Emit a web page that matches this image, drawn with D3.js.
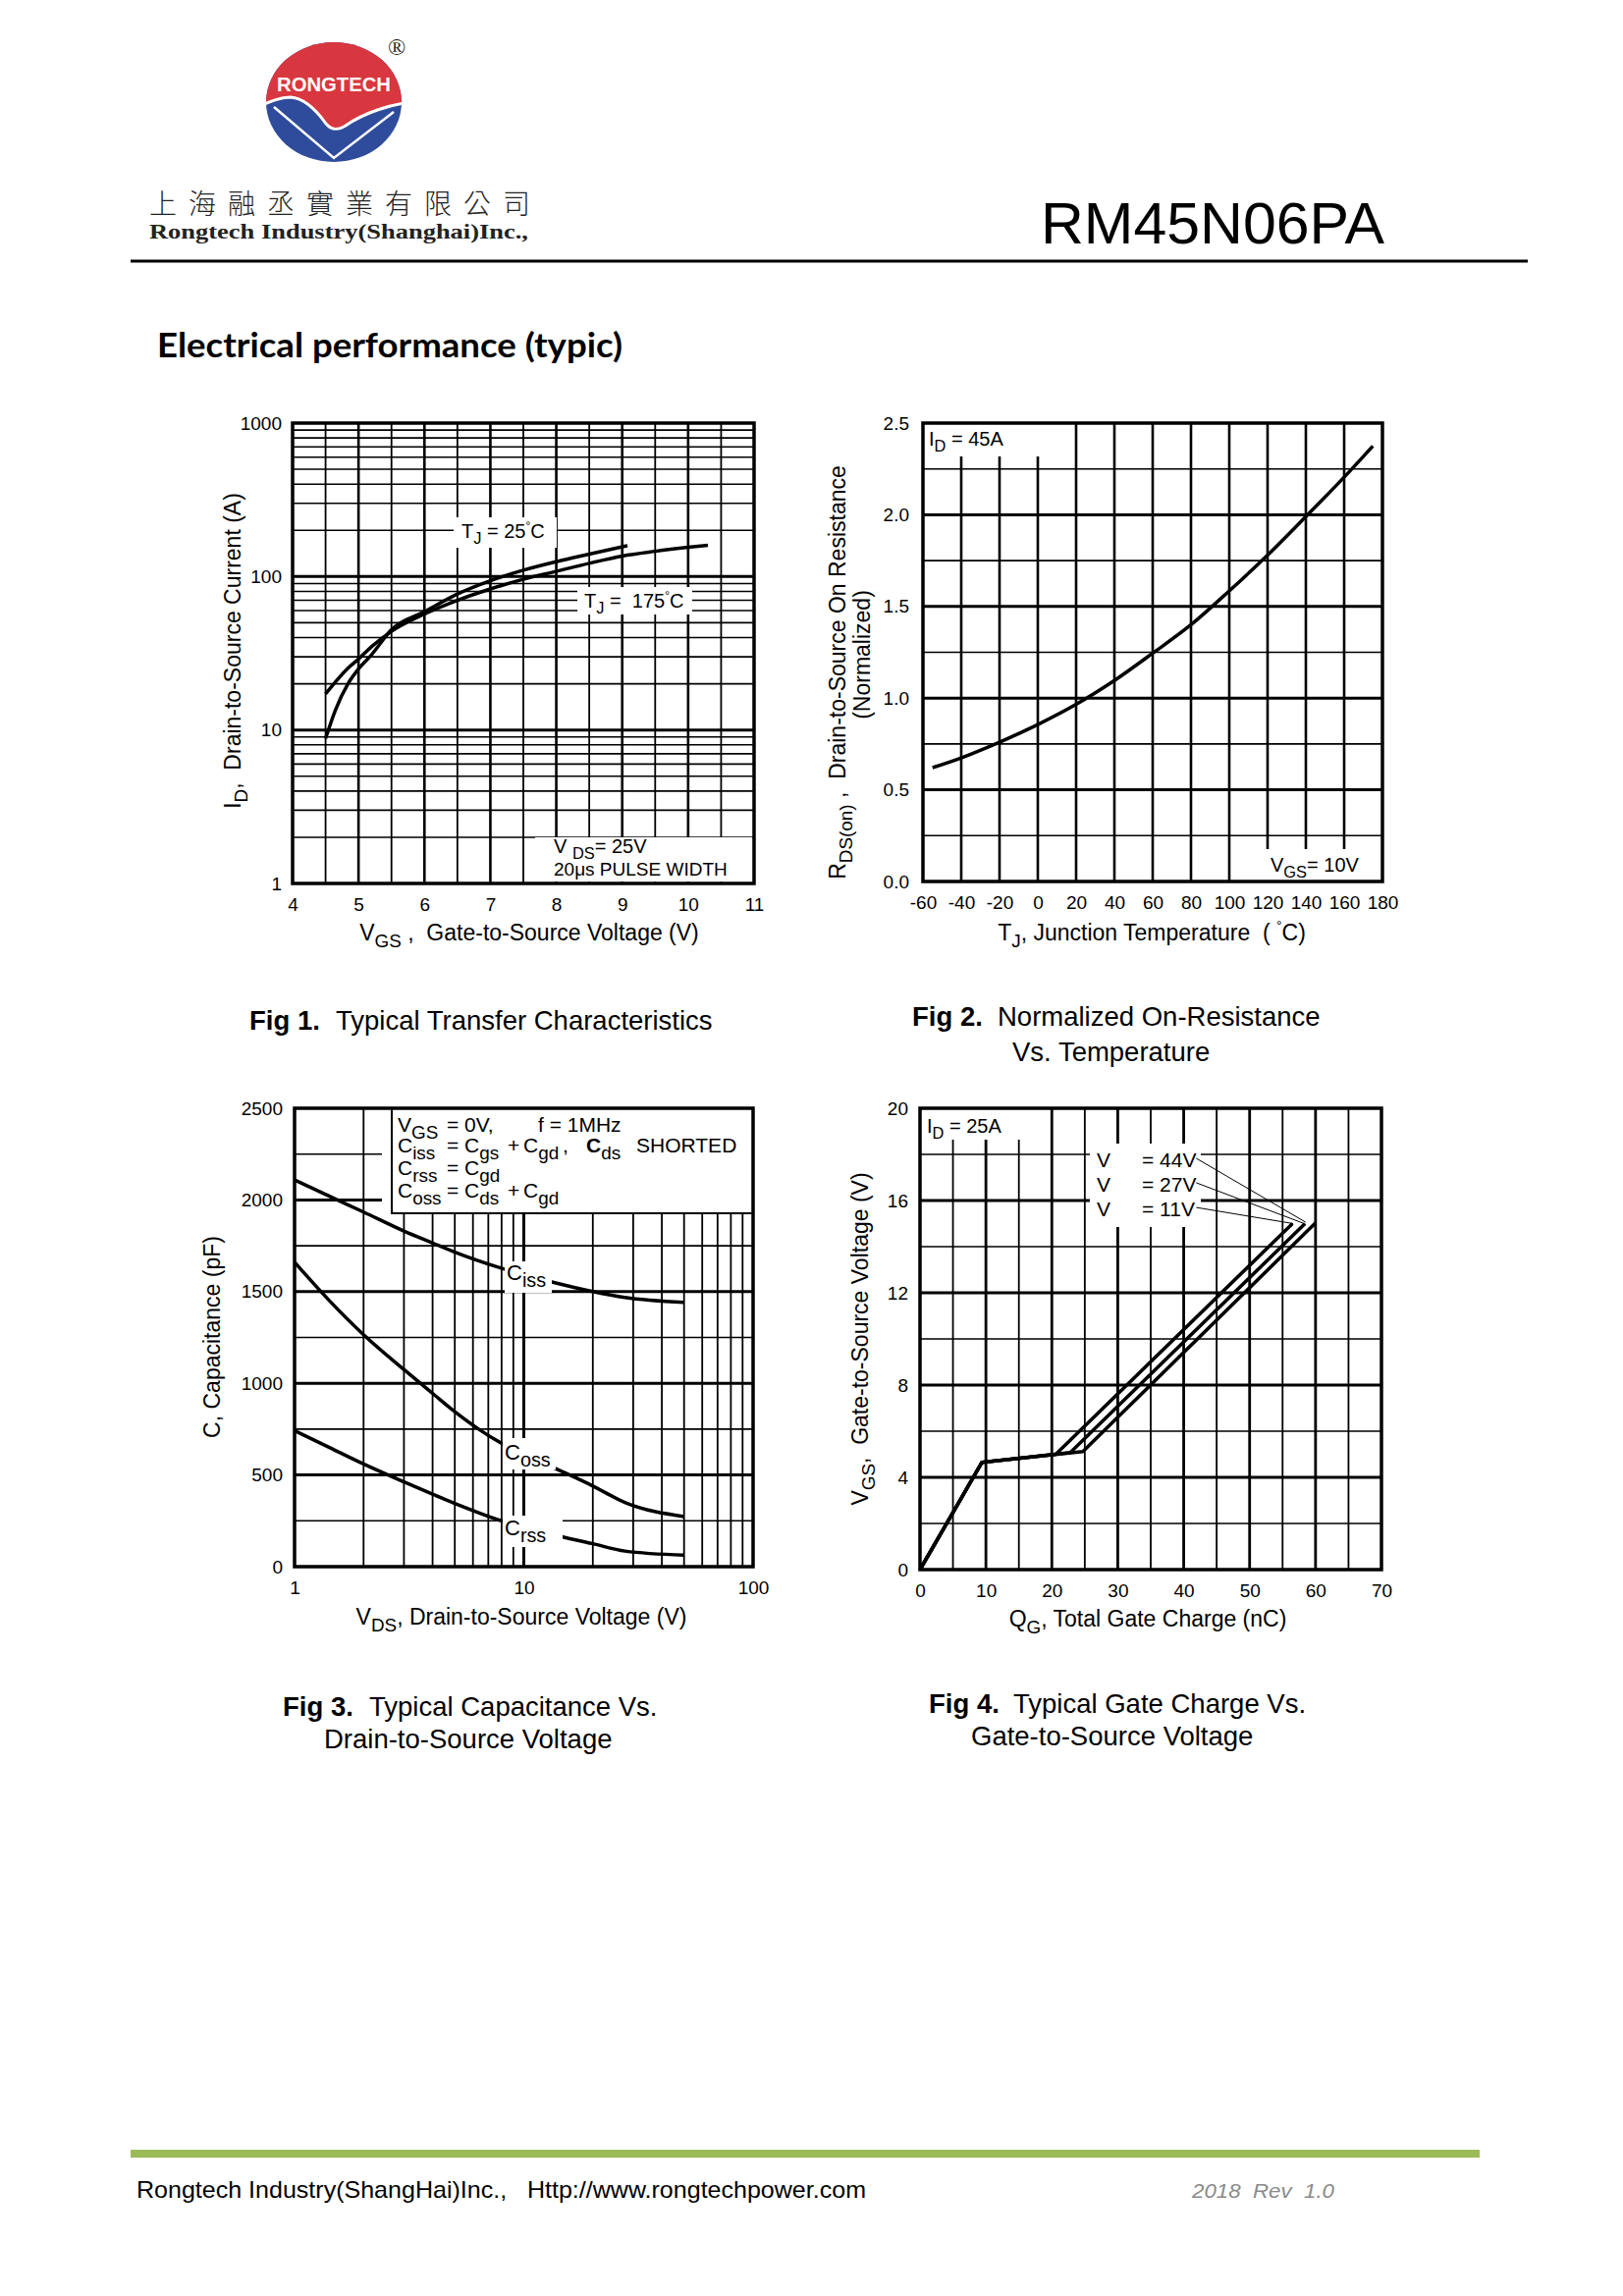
<!DOCTYPE html>
<html><head><meta charset="utf-8">
<script src="https://cdn.jsdelivr.net/npm/d3@7"></script>
<style>
body{margin:0;background:#fff}
svg{display:block}
text{white-space:pre}
</style>
</head><body>
<svg id="page" width="1653" height="2339" xmlns="http://www.w3.org/2000/svg" font-family="'Liberation Sans', Arial, sans-serif"></svg>
<script>
// ---------- DATA ----------
// Fig 1: Typical transfer characteristics (ID vs VGS)
const fig1Vgs25  = [4.5, 4.65, 4.84, 5.0, 5.2, 5.5, 6.0, 6.5, 7.0, 7.5, 8.0, 8.5, 9.08];
const fig1Id25   = [8.8, 13.5, 20, 25, 31, 45, 59, 77, 94, 110, 125, 140, 159];
const fig1Vgs175 = [4.5, 4.84, 5.0, 5.2, 5.5, 6.0, 6.5, 7.0, 7.5, 8.0, 8.5, 9.0, 9.5, 10.0, 10.3];
const fig1Id175  = [17.2, 25.3, 29, 35, 44, 57, 70, 83, 96, 108, 122, 136, 146, 155, 160];
const fig1XTicks = [4, 5, 6, 7, 8, 9, 10, 11];
const fig1YTicks = [1, 10, 100, 1000];

// Fig 2: Normalized on-resistance vs temperature
const fig2Temp = [-55, -40, -20, 0, 20, 40, 60, 80, 100, 120, 140, 160, 175];
const fig2Rds  = [0.621, 0.674, 0.760, 0.856, 0.966, 1.096, 1.245, 1.40, 1.585, 1.78, 1.99, 2.205, 2.375];
const fig2XTicks = [-60, -40, -20, 0, 20, 40, 60, 80, 100, 120, 140, 160, 180];
const fig2YTicks = [0, 0.5, 1.0, 1.5, 2.0, 2.5];

// Fig 3: Capacitance vs VDS
const fig3VdsIss = [1, 1.42, 2, 3, 4, 5, 8.1, 13, 20, 27.6, 50];
const fig3Ciss   = [2109, 2020, 1934, 1830, 1765, 1715, 1625, 1555, 1500, 1468, 1441];
const fig3VdsOss = [1, 1.42, 2, 3, 4, 5, 6.44, 8.2, 13.5, 20, 27.6, 50];
const fig3Coss   = [1660, 1450, 1265, 1075, 945, 845, 745, 665, 540, 440, 350, 273];
const fig3VdsRss = [1, 1.42, 2, 3, 4, 5, 8.2, 14.5, 20, 27.6, 50];
const fig3Crss   = [742, 650, 560, 462, 395, 345, 245, 165, 125, 85, 63];
const fig3XTicks = [1, 10, 100];
const fig3YTicks = [0, 500, 1000, 1500, 2000, 2500];

// Fig 4: Gate charge
const fig4Q11 = [0, 9.4, 20.6, 56.5];
const fig4V11 = [0, 4.65, 5.0, 15.0];
const fig4Q27 = [0, 9.4, 22.8, 58.4];
const fig4V27 = [0, 4.65, 5.07, 15.0];
const fig4Q44 = [0, 9.4, 24.7, 60.0];
const fig4V44 = [0, 4.65, 5.12, 15.03];
const fig4Labels = ["44V", "27V", "11V"];
const fig4LeaderFromQ = [41.9, 41.9, 41.9];
const fig4LeaderFromV = [17.83, 16.77, 15.70];
const fig4LeaderToQ   = [58.5, 58.1, 56.6];
const fig4LeaderToV   = [15.06, 15.02, 15.0];
const fig4XTicks = [0, 10, 20, 30, 40, 50, 60, 70];
const fig4YTicks = [0, 4, 8, 12, 16, 20];

// ---------- HELPERS ----------
const svg = d3.select('#page');
const FONT = "'Liberation Sans', Arial, sans-serif";
const TITLE = 23;

function rich(g, x, y, parts, size, attrs, subScale) {
  const ss = subScale || 0.82;
  const t = g.append('text').attr('x', x).attr('y', y).attr('font-size', size);
  if (attrs) for (const k in attrs) t.attr(k, attrs[k]);
  let shift = 0;
  parts.forEach(p => {
    const s = typeof p === 'string' ? p : p[0];
    const kind = typeof p === 'string' ? 'n' : (p[1] || 'n');
    const ts = t.append('tspan').text(s);
    let target = 0;
    if (kind === 'sub') { target = size * 0.32; ts.attr('font-size', size * ss); }
    else if (kind === 'sup') { target = -size * 0.42; ts.attr('font-size', size * 0.6); }
    if (kind === 'b') ts.attr('font-weight', 'bold');
    if (target !== shift) { ts.attr('dy', target - shift); shift = target; }
    if (typeof p !== 'string' && p[2] != null) ts.attr('x', p[2]);
  });
  return t;
}

function vlines(g, x, y, vals, w) {
  g.append('g').selectAll('line').data(vals).join('line')
    .attr('x1', d => x(d)).attr('x2', d => x(d))
    .attr('y1', y.range()[0]).attr('y2', y.range()[1])
    .attr('stroke', '#000').attr('stroke-width', w);
}
function hlines(g, x, y, vals, w) {
  g.append('g').selectAll('line').data(vals).join('line')
    .attr('y1', d => y(d)).attr('y2', d => y(d))
    .attr('x1', x.range()[0]).attr('x2', x.range()[1])
    .attr('stroke', '#000').attr('stroke-width', w);
}
function frame(g, x, y) {
  g.append('rect').attr('x', x.range()[0]).attr('y', y.range()[1])
    .attr('width', x.range()[1] - x.range()[0]).attr('height', y.range()[0] - y.range()[1])
    .attr('fill', 'none').attr('stroke', '#000').attr('stroke-width', 3.5);
}
function whiteBox(g, x0, y0, x1, y1) {
  g.append('rect').attr('x', x0).attr('y', y0).attr('width', x1 - x0).attr('height', y1 - y0).attr('fill', '#fff');
}
function axes(g, x, y, xt, yt, xfmt, yfmt, xpad, ypad) {
  const ax = g.append('g').attr('transform', `translate(0,${y.range()[0]})`)
    .call(d3.axisBottom(x).tickValues(xt).tickFormat(xfmt).tickSize(0).tickPadding(xpad));
  const ay = g.append('g').attr('transform', `translate(${x.range()[0]},0)`)
    .call(d3.axisLeft(y).tickValues(yt).tickFormat(yfmt).tickSize(0).tickPadding(ypad));
  [ax, ay].forEach(a => {
    a.select('.domain').remove();
    a.attr('font-family', FONT).attr('font-size', 19);
    a.selectAll('text').attr('fill', '#000');
  });
}
function curve(g, xs, ys, x, y, type, w) {
  const pts = xs.map((v, i) => [v, ys[i]]);
  g.append('path').attr('d', d3.line().x(d => x(d[0])).y(d => y(d[1])).curve(type)(pts))
    .attr('fill', 'none').attr('stroke', '#000').attr('stroke-width', w).attr('stroke-linejoin', 'round');
}
function yTitle(g, cx, cy, parts, size) {
  const gg = g.append('g').attr('transform', `translate(${cx},${cy}) rotate(-90)`);
  rich(gg, 0, 0, parts, size, {'text-anchor': 'middle'});
}
const plain = d => String(d);

// ---------- HEADER ----------
const hdr = svg.append('g');
const defs = svg.append('defs');
defs.append('clipPath').attr('id', 'logoClip').append('ellipse')
  .attr('cx', 340).attr('cy', 104).attr('rx', 69).attr('ry', 61);
const logo = hdr.append('g').attr('clip-path', 'url(#logoClip)');
logo.append('rect').attr('x', 260).attr('y', 35).attr('width', 160).attr('height', 140).attr('fill', '#2f4c9c');
logo.append('path')
  .attr('d', 'M260,35 L420,35 L420,104 C400,106 372,114 352,128 C344,133 338,133 332,126 C322,112 310,100 296,99 C285,99 276,103 260,110 Z')
  .attr('fill', '#d8373f');
logo.append('path')
  .attr('d', 'M260,110 C276,103 285,99 296,99 C310,100 322,112 332,126 C338,133 344,133 352,128 C372,114 400,106 420,104')
  .attr('fill', 'none').attr('stroke', '#fff').attr('stroke-width', 3);
logo.append('path').attr('d', 'M279,109 L340,161 L401,114')
  .attr('fill', 'none').attr('stroke', '#fff').attr('stroke-width', 2.5);
hdr.append('text').attr('x', 340).attr('y', 93).attr('text-anchor', 'middle')
  .attr('font-size', 21).attr('font-weight', 'bold').attr('fill', '#fff')
  .attr('textLength', 116).attr('lengthAdjust', 'spacingAndGlyphs').text('RONGTECH');
hdr.append('text').attr('x', 404).attr('y', 56).attr('text-anchor', 'middle')
  .attr('font-size', 24).attr('font-family', "'Liberation Serif', serif").attr('fill', '#222').text('®');
hdr.append('text').attr('x', 152).attr('y', 218).attr('font-size', 28)
  .attr('font-family', "'Noto Sans CJK TC','Noto Sans CJK SC',sans-serif").attr('font-weight', 300).attr('fill', '#222')
  .attr('textLength', 388).attr('lengthAdjust', 'spacing').text('上海融丞實業有限公司');
hdr.append('text').attr('x', 152).attr('y', 243).attr('font-size', 21).attr('font-weight', 'bold')
  .attr('font-family', "'Liberation Serif','DejaVu Serif',serif").attr('fill', '#222')
  .attr('textLength', 386).attr('lengthAdjust', 'spacingAndGlyphs').text('Rongtech Industry(Shanghai)Inc.,');
hdr.append('line').attr('x1', 133).attr('x2', 1556).attr('y1', 266).attr('y2', 266)
  .attr('stroke', '#000').attr('stroke-width', 3);
hdr.append('text').attr('x', 1060).attr('y', 248).attr('font-size', 60).attr('fill', '#000')
  .attr('textLength', 350).attr('lengthAdjust', 'spacingAndGlyphs').text('RM45N06PA');
hdr.append('text').attr('x', 160).attr('y', 364).attr('font-size', 34).attr('font-weight', 'bold')
  .attr('font-family', "Lato, 'Open Sans', sans-serif").attr('fill', '#000')
  .attr('textLength', 474).attr('lengthAdjust', 'spacingAndGlyphs').text('Electrical performance (typic)');

// ---------- FIG 1 ----------
{
  const g = svg.append('g');
  const x = d3.scaleLinear().domain([4, 11]).range([298, 768]);
  const y = d3.scaleLog().domain([1, 1000]).range([900, 431]);
  const minorY = [], majorY = [10, 100];
  [1, 10, 100].forEach(d => { for (let k = 2; k <= 9; k++) minorY.push(k * d); });
  hlines(g, x, y, minorY, 1.6);
  hlines(g, x, y, majorY, 3);
  vlines(g, x, y, d3.range(4.5, 11, 1), 1.8);
  vlines(g, x, y, d3.range(5, 11, 1), 2.6);
  whiteBox(g, 462, 527, 567, 558);
  whiteBox(g, 588, 598, 705, 626);
  whiteBox(g, 545, 853, 766, 898);
  curve(g, fig1Vgs25, fig1Id25, x, y, d3.curveMonotoneX, 3.5);
  curve(g, fig1Vgs175, fig1Id175, x, y, d3.curveMonotoneX, 3.5);
  frame(g, x, y);
  axes(g, x, y, fig1XTicks, fig1YTicks, plain, plain, 15, 11);
  rich(g, 470, 548, ['T', ['J', 'sub'], ' = 25', ['°', 'sup'], 'C'], 20);
  rich(g, 595, 619, ['T', ['J', 'sub'], ' =  175', ['°', 'sup'], 'C'], 20);
  rich(g, 564, 869, ['V ', ['DS', 'sub'], '= 25V'], 20);
  rich(g, 564, 892, ['20μs PULSE WIDTH'], 19);
  yTitle(g, 245, 663, ['I', ['D', 'sub'], ',  Drain-to-Source Current (A)'], TITLE);
  rich(g, 539, 958, ['V', ['GS', 'sub'], ' ,  Gate-to-Source Voltage (V)'], TITLE, {'text-anchor': 'middle'});
}

// ---------- FIG 2 ----------
{
  const g = svg.append('g');
  const x = d3.scaleLinear().domain([-60, 180]).range([940, 1408]);
  const y = d3.scaleLinear().domain([0, 2.5]).range([898, 431]);
  hlines(g, x, y, [0.25, 0.75, 1.25, 1.75, 2.25], 1.6);
  hlines(g, x, y, [0.5, 1.0, 1.5, 2.0], 3);
  vlines(g, x, y, d3.range(-40, 180, 20), 2.6);
  whiteBox(g, 941, 432, 1080, 465);
  whiteBox(g, 1284, 865, 1407, 897);
  curve(g, fig2Temp, fig2Rds, x, y, d3.curveCatmullRom, 3.5);
  frame(g, x, y);
  axes(g, x, y, fig2XTicks, fig2YTicks, plain, d3.format('.1f'), 15, 14);
  rich(g, 946, 454, ['I', ['D', 'sub'], ' = 45A'], 20);
  rich(g, 1294, 888, ['V', ['GS', 'sub'], '= 10V'], 20);
  yTitle(g, 861, 685, ['R', ['DS(on)', 'sub'], ' ,  Drain-to-Source On Resistance'], TITLE);
  yTitle(g, 886, 667, ['(Normalized)'], TITLE);
  rich(g, 1173, 958, ['T', ['J', 'sub'], ', Junction Temperature  ( ', ['°', 'sup'], 'C)'], TITLE, {'text-anchor': 'middle'});
}

// ---------- FIG 3 ----------
{
  const g = svg.append('g');
  const x = d3.scaleLog().domain([1, 100]).range([300, 767]);
  const y = d3.scaleLinear().domain([0, 2500]).range([1596, 1129]);
  hlines(g, x, y, [250, 750, 1250, 1750, 2250], 1.6);
  hlines(g, x, y, [500, 1000, 1500, 2000], 3);
  const minorX = [];
  [1, 10].forEach(d => { for (let k = 2; k <= 9; k++) minorX.push(k * d); });
  vlines(g, x, y, minorX, 1.8);
  vlines(g, x, y, [10], 3);
  curve(g, fig3VdsIss, fig3Ciss, x, y, d3.curveMonotoneX, 3.5);
  curve(g, fig3VdsOss, fig3Coss, x, y, d3.curveMonotoneX, 3.5);
  curve(g, fig3VdsRss, fig3Crss, x, y, d3.curveMonotoneX, 3.5);
  whiteBox(g, 514, 1285, 562, 1317);
  whiteBox(g, 512, 1465, 566, 1497);
  whiteBox(g, 512, 1544, 573, 1576);
  whiteBox(g, 389, 1129, 767, 1236);
  g.append('rect').attr('x', 399).attr('y', 1129).attr('width', 368).attr('height', 107)
    .attr('fill', '#fff').attr('stroke', '#000').attr('stroke-width', 2);
  frame(g, x, y);
  axes(g, x, y, fig3XTicks, fig3YTicks, plain, plain, 15, 12);
  rich(g, 516, 1304, ['C', ['iss', 'sub']], 22, null, 0.9);
  rich(g, 514, 1487, ['C', ['oss', 'sub']], 22, null, 0.9);
  rich(g, 514, 1564, ['C', ['rss', 'sub']], 22, null, 0.9);
  const fs = 21;
  rich(g, 405, 1153, ['V', ['GS', 'sub'], ['= 0V,', 'n', 455], ['f = 1MHz', 'n', 548]], fs, null, 0.9);
  rich(g, 405, 1174, ['C', ['iss', 'sub'], ['= C', 'n', 455], ['gs', 'sub'], ['+', 'n', 517], ['C', 'n', 533], ['gd', 'sub'], [',', 'n', 573], ['C', 'b', 597], ['ds', 'sub'], ['SHORTED', 'n', 648]], fs, null, 0.9);
  rich(g, 405, 1197, ['C', ['rss', 'sub'], ['= C', 'n', 455], ['gd', 'sub']], fs, null, 0.9);
  rich(g, 405, 1220, ['C', ['oss', 'sub'], ['= C', 'n', 455], ['ds', 'sub'], ['+', 'n', 517], ['C', 'n', 533], ['gd', 'sub']], fs, null, 0.9);
  yTitle(g, 224, 1362, ['C, Capacitance (pF)'], TITLE);
  rich(g, 531, 1655, ['V', ['DS', 'sub'], ', Drain-to-Source Voltage (V)'], TITLE, {'text-anchor': 'middle'});
}

// ---------- FIG 4 ----------
{
  const g = svg.append('g');
  const x = d3.scaleLinear().domain([0, 70]).range([937, 1407]);
  const y = d3.scaleLinear().domain([0, 20]).range([1599, 1129]);
  hlines(g, x, y, [2, 6, 10, 14, 18], 1.6);
  hlines(g, x, y, [4, 8, 12, 16], 3);
  vlines(g, x, y, [5, 15, 25, 35, 45, 55, 65], 1.8);
  vlines(g, x, y, [10, 20, 30, 40, 50, 60], 2.8);
  whiteBox(g, 938, 1130, 1057, 1161);
  whiteBox(g, 1110, 1165, 1223, 1250);
  curve(g, fig4Q11, fig4V11, x, y, d3.curveLinear, 3.5);
  curve(g, fig4Q27, fig4V27, x, y, d3.curveLinear, 3.5);
  curve(g, fig4Q44, fig4V44, x, y, d3.curveLinear, 3.5);
  frame(g, x, y);
  axes(g, x, y, fig4XTicks, fig4YTicks, plain, plain, 15, 12);
  rich(g, 944, 1154, ['I', ['D', 'sub'], ' = 25A'], 20);
  fig4Labels.forEach((lab, i) => {
    const by = y(fig4LeaderFromV[i]) + 9;
    rich(g, 1117, by, ['V', ['= ' + lab, 'n', 1163]], 21);
    g.append('line')
      .attr('x1', x(fig4LeaderFromQ[i])).attr('y1', y(fig4LeaderFromV[i]))
      .attr('x2', x(fig4LeaderToQ[i])).attr('y2', y(fig4LeaderToV[i]))
      .attr('stroke', '#000').attr('stroke-width', 1);
  });
  yTitle(g, 884, 1364, ['V', ['GS', 'sub'], ',  Gate-to-Source Voltage (V)'], TITLE);
  rich(g, 1169, 1657, ['Q', ['G', 'sub'], ', Total Gate Charge (nC)'], TITLE, {'text-anchor': 'middle'});
}

// ---------- CAPTIONS ----------
const cap = svg.append('g');
function caption(x, y, bold, rest, xr) {
  const t = cap.append('text').attr('x', x).attr('y', y).attr('font-size', 27.5);
  if (bold) t.append('tspan').attr('font-weight', 'bold').text(bold);
  t.append('tspan').attr('x', xr).text(rest);
}
caption(254, 1049, 'Fig 1.', 'Typical Transfer Characteristics', 342);
caption(929, 1045, 'Fig 2.', 'Normalized On-Resistance', 1016);
caption(1031, 1081, null, 'Vs. Temperature', 1031);
caption(288, 1748, 'Fig 3.', 'Typical Capacitance Vs.', 376);
caption(330, 1781, null, 'Drain-to-Source Voltage', 330);
caption(946, 1745, 'Fig 4.', 'Typical Gate Charge Vs.', 1032);
caption(989, 1778, null, 'Gate-to-Source Voltage', 989);

// ---------- FOOTER ----------
svg.append('rect').attr('x', 133).attr('y', 2190).attr('width', 1374).attr('height', 8).attr('fill', '#9bbb59');
svg.append('text').attr('x', 139).attr('y', 2239).attr('font-size', 24).attr('fill', '#000')
  .attr('textLength', 743).attr('lengthAdjust', 'spacingAndGlyphs')
  .text('Rongtech Industry(ShangHai)Inc.,   Http://www.rongtechpower.com');
svg.append('text').attr('x', 1214).attr('y', 2239).attr('font-size', 21).attr('font-style', 'italic')
  .attr('fill', '#8a8a8a').attr('textLength', 145).attr('lengthAdjust', 'spacingAndGlyphs')
  .text('2018  Rev  1.0');
</script>
</body></html>
